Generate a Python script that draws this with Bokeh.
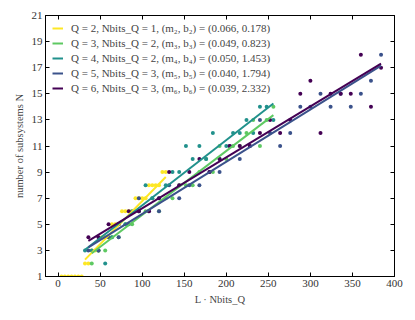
from bokeh.plotting import figure
from bokeh.models import LinearAxis, Range1d, FixedTicker, Legend, LegendItem, ColumnDataSource
from bokeh.embed import file_html
from bokeh.resources import INLINE

# ---- data ----
labels = [
    "Q = 2, Nbits_Q = 1, (m₂, b₂) = (0.066, 0.178)",
    "Q = 3, Nbits_Q = 2, (m₃, b₃) = (0.049, 0.823)",
    "Q = 4, Nbits_Q = 2, (m₄, b₄) = (0.050, 1.453)",
    "Q = 5, Nbits_Q = 3, (m₅, b₅) = (0.040, 1.794)",
    "Q = 6, Nbits_Q = 3, (m₆, b₆) = (0.039, 2.332)",
]
colors = ["#fde725", "#5ec962", "#21918c", "#3b528b", "#440154"]
slopes = [0.066, 0.049, 0.050, 0.040, 0.039]
intercepts = [0.178, 0.823, 1.453, 1.794, 2.332]
fit_start = [32, 40, 32, 36, 36]
fit_end = [128, 256, 256, 384, 384]

x_q2 = [4, 8, 12, 16, 20, 24, 28, 32, 36, 40, 44, 48, 52, 56, 60, 64, 68, 72, 76, 80,
        84, 88, 92, 96, 100, 104, 108, 112, 116, 120, 124, 128]
y_q2 = [1, 1, 1, 1, 1, 1, 1, 2, 2, 3, 3, 3, 4, 4, 4, 5, 5, 5, 6, 6,
        6, 6, 7, 7, 7, 7, 8, 8, 8, 8, 9, 9]

x_q3 = [40, 48, 56, 64, 72, 80, 88, 96, 104, 112, 120, 128, 136, 144, 152, 160, 168, 176,
        184, 192, 200, 208, 216, 224, 232, 240, 248, 256]
y_q3 = [2, 3, 3, 4, 4, 5, 5, 6, 6, 7, 6, 7, 7, 8, 8, 8, 9, 10,
        9, 11, 10, 11, 11, 12, 13, 11, 13, 14]

x_q4 = [32, 40, 48, 56, 64, 72, 80, 88, 96, 104, 112, 120, 128, 136, 144, 152, 160, 168,
        176, 184, 192, 200, 208, 216, 224, 232, 240, 248, 256]
y_q4 = [3, 3, 3, 2, 4, 5, 5, 6, 6, 8, 7, 7, 8, 9, 9, 11, 10, 11,
        10, 12, 10, 11, 12, 12, 13, 12, 14, 14, 13]

x_q5 = [36, 48, 60, 72, 84, 96, 108, 120, 132, 144, 156, 168, 180, 192, 204, 216, 228, 240,
        252, 264, 276, 288, 300, 312, 324, 336, 348, 360, 372, 384]
y_q5 = [3, 3, 4, 4, 5, 7, 6, 6, 8, 7, 8, 8, 9, 9, 11, 10, 11, 13,
        12, 11, 12, 14, 14, 15, 14, 15, 14, 15, 16, 18]

x_q6 = [36, 48, 60, 72, 84, 96, 108, 120, 132, 144, 156, 168, 180, 192, 204, 216, 228, 240,
        252, 264, 276, 288, 300, 312, 324, 336, 348, 360, 372, 384]
y_q6 = [4, 4, 5, 5, 6, 6, 6, 7, 9, 8, 9, 10, 9, 10, 11, 11, 11, 12,
        13, 12, 13, 15, 16, 12, 15, 15, 15, 18, 14, 17]

xs = [x_q2, x_q3, x_q4, x_q5, x_q6]
ys = [y_q2, y_q3, y_q4, y_q5, y_q6]

x_ticks = [0, 50, 100, 150, 200, 250, 300, 350, 400]
y_ticks = [1, 3, 5, 7, 9, 11, 13, 15, 17, 19, 21]

FONT = "Liberation Serif"

p = figure(width=407, height=312, output_backend="svg", toolbar_location=None,
           x_range=Range1d(-15, 400), y_range=Range1d(1, 21),
           min_border_left=45, min_border_right=13, min_border_top=15, min_border_bottom=36)
p.xgrid.visible = False
p.ygrid.visible = False
p.outline_line_color = "black"
p.outline_line_width = 1
p.background_fill_color = "white"
p.border_fill_color = "white"

items = []
for i in range(5):
    src = ColumnDataSource(dict(x=xs[i], y=ys[i]))
    p.scatter("x", "y", source=src, size=4, color=colors[i], line_width=0)
for i in range(5):
    lx = [fit_start[i], fit_end[i]]
    ly = [slopes[i] * v + intercepts[i] for v in lx]
    r = p.line(lx, ly, color=colors[i], line_width=2)
    items.append(LegendItem(label=labels[i], renderers=[r]))

legend = Legend(items=items, location=(5, 180))
legend.label_text_font = FONT
legend.label_text_font_size = "11px"
legend.glyph_width = 11
legend.glyph_height = 10
legend.label_height = 10
legend.spacing = 3
legend.padding = 2
legend.margin = 0
legend.label_standoff = 8
legend.border_line_alpha = 0
legend.background_fill_alpha = 0
p.add_layout(legend)

def style_axis(ax, show_labels=True):
    ax.major_tick_in = 4
    ax.major_tick_out = 0
    ax.minor_tick_in = 0
    ax.minor_tick_out = 0
    ax.axis_line_color = "black"
    ax.major_tick_line_color = "black"
    ax.major_label_text_font = FONT
    ax.major_label_text_font_size = "11px"
    ax.major_label_text_color = "#333333"
    ax.axis_label_text_font = FONT
    ax.axis_label_text_font_size = "10.5px"
    ax.axis_label_text_font_style = "normal"
    ax.major_label_standoff = 3
    ax.axis_label_standoff = 4
    if not show_labels:
        ax.major_label_text_color = None
        ax.major_label_text_font_size = "1px"
        ax.major_label_standoff = 0

p.xaxis.ticker = FixedTicker(ticks=x_ticks)
p.yaxis.ticker = FixedTicker(ticks=y_ticks)
p.xaxis.axis_label = "L · Nbits_Q"
p.yaxis.axis_label = "number of subsystems N"
style_axis(p.xaxis[0])
style_axis(p.yaxis[0])

top = LinearAxis(ticker=FixedTicker(ticks=x_ticks))
right = LinearAxis(ticker=FixedTicker(ticks=y_ticks))
style_axis(top, False)
style_axis(right, False)
p.add_layout(top, "above")
p.add_layout(right, "right")

open("out.html", "w").write(file_html(p, INLINE))
